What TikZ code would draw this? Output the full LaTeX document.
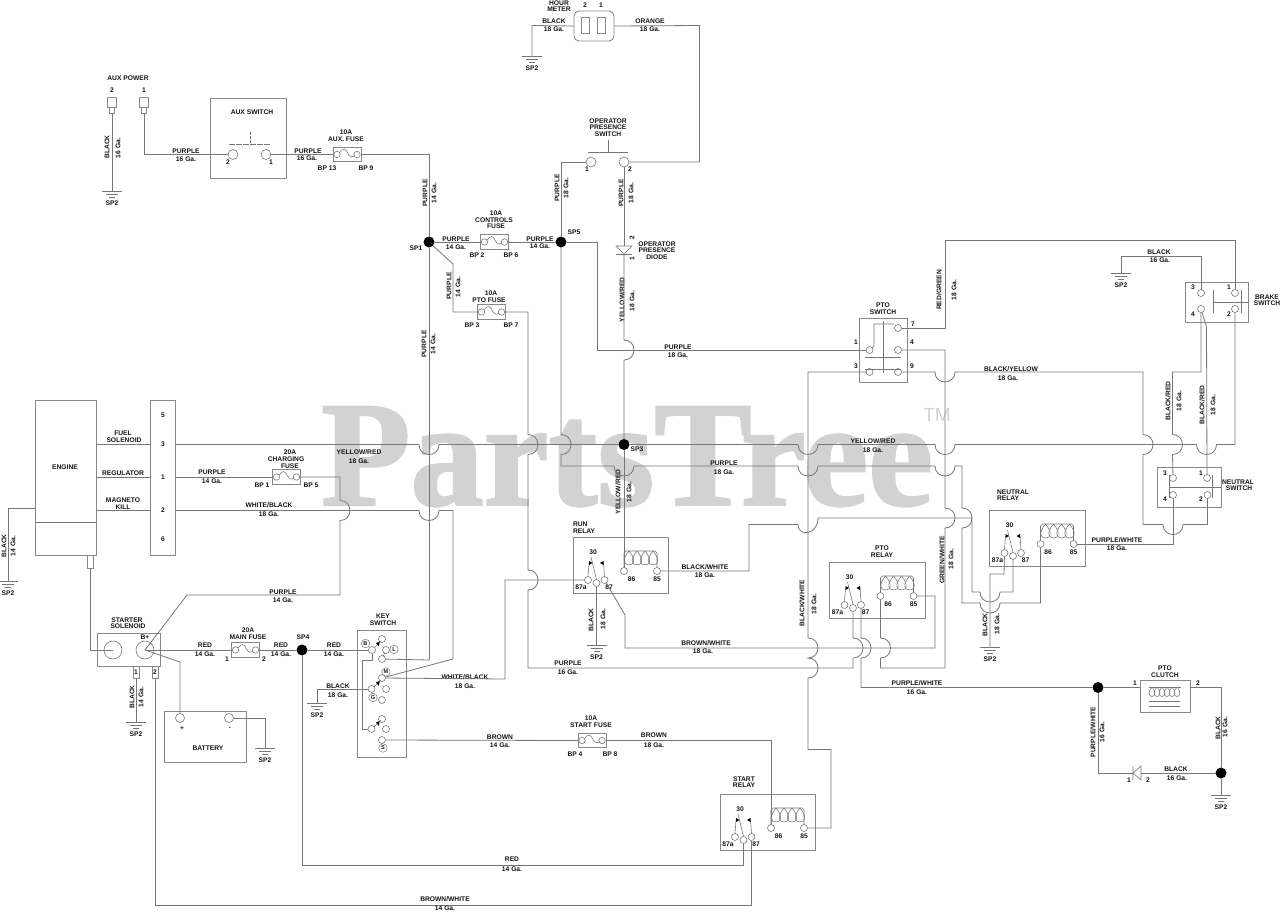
\documentclass[tikz,border=0pt]{standalone}
\usepackage{fontspec}
\setmainfont{Liberation Sans}
\newfontfamily\wmfont[BoldFeatures={FakeBold=1.6}]{Liberation Serif}
\definecolor{wr}{HTML}{777777}
\definecolor{bxc}{HTML}{888888}
\definecolor{tx}{HTML}{151515}
\definecolor{wmc}{HTML}{D2D2D2}
\tikzset{
 wire/.style={draw=wr,line width=.8pt,line join=miter},
 thin wire/.style={draw=wr,line width=.6pt},
 lbl/.style={inner sep=0pt,outer sep=0pt,text=tx,font=\fontsize{6.7}{7}\selectfont\bfseries},
 rlbl/.style={lbl,rotate=90},
 boxn/.style={draw=bxc,line width=.9pt,inner sep=0pt,outer sep=0pt,fill=none},
 term/.style={circle,draw=wr,line width=.6pt,inner sep=0pt,outer sep=0pt,minimum size=7pt},
 bigterm/.style={term,minimum size=10pt},
 dotn/.style={circle,fill=black,inner sep=0pt,outer sep=0pt,minimum size=11pt},
 ringlbl/.style={circle,draw=wr,line width=.5pt,inner sep=0pt,minimum size=8.5pt,text=tx,font=\fontsize{5.6}{6}\selectfont\bfseries},
}
\newcount\lblc
\newcommand{\T}[3]{\global\advance\lblc by 1 \node[lbl] (lbl\the\lblc) at (#1,#2) {#3};}
\newcommand{\RT}[3]{\global\advance\lblc by 1 \node[rlbl] (lbl\the\lblc) at (#1,#2) {#3};}
% hops: horizontal travelling right, bulge downwards; vertical travelling down, bulge right
\def\hd#1#2{-- (#1-10,#2) .. controls (#1-10,#2+13.3) and (#1+10,#2+13.3) .. (#1+10,#2)}
\def\vr#1#2{-- (#1,#2-10) .. controls (#1+13.3,#2-10) and (#1+13.3,#2+10) .. (#1,#2+10)}
\newcommand{\bx}[5]{\node[boxn,minimum width={(#4-#2)*1pt},minimum height={(#5-#3)*1pt}] (#1) at ({(#2+#4)/2},{(#3+#5)/2}) {};}
\newcommand{\fuse}[3]{%
 \node[boxn,minimum width=28pt,minimum height=14.5pt] (#1) at (#2,#3) {};
 \draw[thin wire] (#2-10,#3) circle[radius=3.2] (#2+10,#3) circle[radius=3.2];
 \draw[thin wire] (#2-7.5,#3-2) .. controls (#2-3.5,#3-7) and (#2-1.5,#3-6.5) .. (#2+1,#3-1) .. controls (#2+3,#3+2.5) and (#2+5,#3+3) .. (#2+7.5,#3+1);}
\newcommand{\gnd}[3]{% name, x, y
 \coordinate (#1) at (#2,#3);
 \draw[thin wire] (#2-10,#3)--(#2+10,#3) (#2-6,#3+3)--(#2+6,#3+3) (#2-3,#3+6)--(#2+3,#3+6);
 \T{#2}{#3+12.5}{SP2}}
\newcommand{\coilunit}[4]{% cx, top, bottom, half-width
 \draw[thin wire] (#1,#2) .. controls (#1-#4*1.5,#3-5) and (#1-#4,#3) .. (#1,#3) .. controls (#1+#4,#3) and (#1+#4*1.5,#3-5) .. (#1,#2);}
\newcommand{\relay}[3]{% name, x, y
 \node[boxn,minimum width=95.5pt,minimum height=56pt] (#1) at (#2+47.75,#3+28) {};
 \node[term] (#1a) at (#2+15,#3+43) {};
 \node[term] (#1c) at (#2+23.5,#3+46) {};
 \node[term] (#1n) at (#2+31.5,#3+43) {};
 \node[term] (#1p) at (#2+51,#3+34) {};
 \node[term] (#1q) at (#2+84,#3+34) {};
 \draw[thin wire] (#1a.north)--(#2+16,#3+26) (#1n.north)--(#2+30.5,#3+26) (#1c.north)--(#2+18,#3+20);
 \fill[black] (#2+16,#3+24) -- (#2+19.5,#3+26) -- (#2+16,#3+28) -- cycle;
 \fill[black] (#2+30.5,#3+24) -- (#2+27,#3+26) -- (#2+30.5,#3+28) -- cycle;
 \draw[thin wire] (#1p.north) -- (#2+51,#3+16) -- (#2+53,#3+14) -- (#2+82,#3+14) -- (#2+84,#3+16) -- (#1q.north);
 \coilunit{#2+56}{#3+14}{#3+28}{5}\coilunit{#2+64}{#3+14}{#3+28}{5}\coilunit{#2+72}{#3+14}{#3+28}{5}\coilunit{#2+80}{#3+14}{#3+28}{5}
 \T{#2+20}{#3+15}{30}\T{#2+8}{#3+50.5}{87a}\T{#2+36}{#3+50.5}{87}\T{#2+58.5}{#3+42}{86}\T{#2+84}{#3+42}{85}}
\begin{document}
\begin{tikzpicture}[x=1pt,y=-1pt]
\useasboundingbox (0,0) rectangle (1280,913);
% watermark
\node[inner sep=0pt,text=wmc,xscale=.975,font=\fontsize{150}{150}\selectfont\wmfont\bfseries,anchor=base west] (wm) at (321,505) {PartsTree};
\node[inner sep=0pt,text=wmc,font=\fontsize{19}{19}\selectfont] (wmtm) at (937,415) {TM};

% ---------- AUX POWER
\T{128}{78}{AUX POWER}\T{112}{90}{2}\T{144}{90}{1}
\node[boxn,minimum width=9pt,minimum height=10pt] (ap2) at (112,102) {};
\node[boxn,minimum width=5pt,minimum height=6pt] (ap2b) at (112,110) {};
\node[boxn,minimum width=9pt,minimum height=10pt] (ap1) at (144,102) {};
\node[boxn,minimum width=5pt,minimum height=6pt] (ap1b) at (144,110) {};
\gnd{g1}{112}{191}
\draw[wire] (ap2b.south) -- (g1);
\RT{107}{147}{BLACK}\RT{118}{148}{16 Ga.}
\bx{auxsw}{210.5}{98.5}{286}{178}
\T{252}{112}{AUX SWITCH}
\node[bigterm] (as2) at (233,154.5) {};
\node[bigterm] (as1) at (266,154.5) {};
\draw[thin wire,dash pattern=on 6pt off 1pt] (229,144)--(270,144);
\draw[thin wire,dash pattern=on 3pt off 1pt] (250,132)--(250,144);
\T{228}{162}{2}\T{271}{162}{1}
\draw[wire] (ap1b.south) |- (as2);
\T{186}{151}{PURPLE}\T{186}{159}{16 Ga.}
\draw[wire] (as1) -- (333,154.5);
\T{308}{151}{PURPLE}\T{307}{158.5}{16 Ga.}
\fuse{fa}{347}{154.5}
\T{346}{132}{10A}\T{346}{139}{AUX. FUSE}\T{327}{168}{BP 13}\T{366}{168}{BP 9}

% ---------- SP1 and fuses
\node[dotn] (sp1) at (429,242) {};
\T{416}{248}{SP1}
\draw[wire] (fa.east) -- (429,154.5) -- (sp1);
\draw[wire] (sp1) -- (429,660);
\RT{425}{193}{PURPLE}\RT{434}{193}{14 Ga.}\RT{424}{344}{PURPLE}\RT{433}{344}{14 Ga.}
\fuse{fc}{494.5}{242}
\T{496}{213}{10A}\T{494}{220}{CONTROLS}\T{496}{226.5}{FUSE}\T{477}{255}{BP 2}\T{511}{255}{BP 6}
\T{456}{239}{PURPLE}\T{456}{247}{14 Ga.}\T{540}{239}{PURPLE}\T{540}{246.5}{14 Ga.}
\node[dotn] (sp5) at (561,242) {};
\T{574}{232}{SP5}
\draw[wire] (sp1) -- (fc.west) (fc.east) -- (sp5);
\fuse{fp}{491.5}{312}
\T{491}{293}{10A}\T{489}{300}{PTO FUSE}\T{472}{325}{BP 3}\T{511}{325}{BP 7}
\draw[wire] (sp1) -- (453,264) -- (453,312) -- (fp.west);
\RT{449}{286}{PURPLE}\RT{458}{287}{14 Ga.}

% ---------- operator presence
\T{608}{121}{OPERATOR}\T{608}{127.5}{PRESENCE}\T{608}{134}{SWITCH}
\draw[thin wire] (588,152)--(628,152) (608,140)--(608,152);
\node[bigterm] (op1) at (591,162) {};
\node[bigterm] (op2) at (624,162) {};
\T{587}{169}{1}\T{630}{169}{2}
\draw[wire] (sp5) |- (op1);
\RT{557}{188}{PURPLE}\RT{566}{188}{18 Ga.}
\RT{621}{193}{PURPLE}\RT{631}{193}{18 Ga.}
% hour meter
\node[boxn,rounded corners=5pt,minimum width=40pt,minimum height=30pt] (hm) at (594,26) {};
\node[boxn,line width=.6pt,minimum width=8pt,minimum height=16pt] (hm2) at (585.5,25.5) {};
\node[boxn,line width=.6pt,minimum width=8pt,minimum height=16pt] (hm1) at (601.5,25.5) {};
\T{585}{5}{2}\T{601}{5}{1}\T{559}{3}{HOUR}\T{559}{9.5}{METER}
\T{554}{21}{BLACK}\T{554}{29}{18 Ga.}\T{650}{21}{ORANGE}\T{650}{29}{18 Ga.}
\gnd{g2}{532}{56}
\draw[wire] (hm.west) -- (532,25.5) -- (g2);
\draw[wire] (hm.east) -- (699.5,25.5) -- (699.5,162) -- (op2);
% diode
\coordinate (dio) at (624,246);
\coordinate (dio2) at (624,254);
\draw[thin wire] (616,246) -- (632,246) -- (624,254) -- cycle;
\draw[thin wire] (616,254)--(632,254);
\RT{632}{238}{2}\RT{632}{259}{1}
\T{657}{244}{OPERATOR}\T{657}{250.5}{PRESENCE}\T{657}{257}{DIODE}
\draw[wire] (op2) -- (dio);
\RT{622}{300}{YELLOW/RED}\RT{632}{301}{18 Ga.}
\node[dotn] (sp3) at (624,444.5) {};
\T{637}{449}{SP3}
\RT{618}{492}{YELLOW/RED}\RT{629}{492}{18 Ga.}

% ---------- engine
\bx{engine}{35.5}{400}{96}{555}
\draw[wire] (engine.west |- 0,522) -- (engine.east |- 0,522);
\T{65}{467}{ENGINE}
\bx{tb}{150}{400}{175}{555}
\T{163}{415}{5}\T{163}{539}{6}
\node[lbl] (n3) at (163,444.5) {3};
\node[lbl] (n1) at (163,477) {1};
\node[lbl] (n2) at (163,510.5) {2};
\T{123}{433}{FUEL}\T{124}{440}{SOLENOID}\T{123}{473}{REGULATOR}\T{123}{500}{MAGNETO}\T{123}{507}{KILL}
\draw[wire] (engine.east |- n3) -- (tb.west |- n3);
\draw[wire] (engine.east |- n1) -- (tb.west |- n1);
\draw[wire] (engine.east |- n2) -- (tb.west |- n2);
\gnd{g3}{8}{581}
\draw[wire] (engine.west |- 0,508) -- (8,508) -- (g3);
\RT{4}{546}{BLACK}\RT{13}{546}{14 Ga.}
\node[boxn,line width=.7pt,minimum width=6pt,minimum height=13pt] (engc) at (90.5,561.5) {};

% ---------- charging fuse
\fuse{fch}{286.5}{477}
\T{290}{452}{20A}\T{286}{459}{CHARGING}\T{290}{466}{FUSE}\T{262}{485}{BP 1}\T{311}{485}{BP 5}
\T{212}{472}{PURPLE}\T{212}{481}{14 Ga.}\T{269}{505}{WHITE/BLACK}\T{269}{514}{18 Ga.}
\T{359}{452}{YELLOW/RED}\T{359}{461}{18 Ga.}\T{283}{592}{PURPLE}\T{283}{600}{14 Ga.}
\draw[wire] (tb.east |- n1) -- (fch.west);

% ---------- starter solenoid
\bx{sol}{97.5}{633}{160}{666}
\node[circle,draw=wr,line width=.6pt,minimum size=18pt,inner sep=0pt] (solL) at (113,650) {};
\node[circle,draw=wr,line width=.6pt,minimum size=18pt,inner sep=0pt] (solR) at (145,650) {};
\T{127}{620}{STARTER}\T{128}{626.5}{SOLENOID}\T{145}{637}{B+}
\node[boxn,line width=.7pt,minimum width=6pt,minimum height=12pt,label={[lbl]center:1}] (sol1) at (136,672) {};
\node[boxn,line width=.7pt,minimum width=6pt,minimum height=12pt,label={[lbl]center:2}] (sol2) at (155,672) {};
\draw[wire] (engc.south) -- (90.5,650) -- (solL.center);
\draw[wire] (fch.east) -- (340,477) \vr{340}{510.5} -- (340,595) -- (187,595) -- (solR.center);
\gnd{g4}{136}{722}
\draw[wire] (sol1.south) -- (g4);
\RT{132}{697}{BLACK}\RT{141}{697}{14 Ga.}
% battery
\bx{bat}{164}{711.5}{246}{762}
\node[term,minimum size=9pt] (batp) at (180,718) {};
\node[term,minimum size=9pt] (batm) at (229,718) {};
\T{182}{729}{+}\T{230}{728}{-}\T{208}{748}{BATTERY}
\draw[wire] (solR.center) -- (180,662) -- (batp);
\gnd{g5}{265}{748}
\draw[wire] (batm) -- (265,718) -- (g5);
% main fuse
\fuse{fm}{245.5}{650}
\T{248}{630}{20A}\T{248}{637}{MAIN FUSE}\T{227}{659}{1}\T{264}{659}{2}
\T{205}{645}{RED}\T{205}{654}{14 Ga.}\T{281}{645}{RED}\T{281}{654}{14 Ga.}\T{334}{645}{RED}\T{334}{654}{14 Ga.}
\node[dotn] (sp4) at (302,650) {};
\T{303}{637}{SP4}
\draw[wire] (solR.center) -- (fm.west) (fm.east) -- (sp4);

% ---------- key switch
\T{383}{616}{KEY}\T{383}{623}{SWITCH}
\bx{key}{357}{630}{406.5}{757.5}
\node[term] (kb) at (372,650) {};
\node[term] (kbu) at (382,639) {};
\node[term] (kl) at (386,650) {};
\node[term] (kll) at (382,659) {};
\node[term] (km) at (382,678) {};
\node[term] (kmr) at (386,689) {};
\node[term] (kg) at (371.5,689) {};
\node[term] (kgl) at (382,700) {};
\node[term] (ks3) at (371.5,729) {};
\node[term] (ks3u) at (382,719) {};
\node[term] (ks3r) at (386,729) {};
\node[term] (ks) at (382,740) {};
\node[ringlbl] (rb) at (365.5,643.5) {B};
\node[ringlbl] (rl) at (394,649.5) {L};
\node[ringlbl] (rm) at (386,672) {M};
\node[ringlbl] (rg) at (373,697.5) {G};
\node[ringlbl] (rs) at (383,748) {S};
\draw[wire] (sp4) -- (kb);
\draw[thin wire] (kl) -- (kll);
\draw[thin wire] (kb) -- (381,641);
\draw[thin wire] (kg) -- (381,680);
\draw[thin wire] (ks3) -- (381,720);
\fill[black] (379.5,641.5) -- (376,643) -- (379,646.5) -- cycle;
\fill[black] (379.5,681) -- (376,682.5) -- (379,686) -- cycle;
\fill[black] (379.5,721) -- (376,722.5) -- (379,726) -- cycle;
\draw[thin wire] (kb) -- (372,660.5) -- (362,660.5) -- (362,729) -- (ks3);
\gnd{g6}{317}{703}
\draw[wire] (kg) -- (317,689) -- (g6);
\T{338}{686}{BLACK}\T{338}{695}{18 Ga.}
\draw[wire] (kll) -- (429,660);
\draw[wire] (tb.east |- n2) \hd{429}{510.5} -- (453,510.5) -- (453,659) -- (km);
\T{465}{677}{WHITE/BLACK}\T{465}{686}{18 Ga.}
\T{500}{737}{BROWN}\T{500}{745.5}{14 Ga.}\T{654}{735}{BROWN}\T{654}{745}{18 Ga.}
\fuse{fs}{592}{740.5}
\T{591}{718}{10A}\T{591}{725}{START FUSE}\T{575}{754}{BP 4}\T{610}{754}{BP 8}
\draw[wire] (ks) -- (fs.west);

% ---------- relays
\node[lbl,anchor=west] (lblrr1) at (573,524) {RUN};
\node[lbl,anchor=west] (lblrr2) at (573,531) {RELAY};
\relay{rr}{573}{537}
\T{882}{548}{PTO}\T{882}{555}{RELAY}
\relay{pr}{829.5}{562}
\node[lbl,anchor=west] (lblnr1) at (997,492) {NEUTRAL};
\node[lbl,anchor=west] (lblnr2) at (997,498.5) {RELAY};
\relay{nr}{989.5}{510}
\T{744}{779}{START}\T{744}{785.5}{RELAY}
\relay{sr}{720}{794}

% ---------- PTO switch
\T{883}{305}{PTO}\T{883}{312}{SWITCH}
\bx{ps}{859.5}{318.5}{907.5}{382}
\node[term] (ps1) at (869.5,350) {};
\node[term] (ps7) at (898,328) {};
\node[term] (ps4) at (898,350) {};
\node[term] (ps3) at (869.5,372) {};
\node[term] (ps9) at (898,372) {};
\T{913}{324.5}{7}\T{912}{342}{4}\T{856}{342}{1}\T{856}{366}{3}\T{912}{366}{9}
\draw[thin wire] (ps1) -- (874,346) -- (874,324) -- (894,324);
\draw[thin wire] (883,321) -- (883,373);
\draw[thin wire] (865,357) -- (901,357) (865,369) -- (901,369);
\RT{939}{290}{RED/GREEN}\RT{954}{290}{18 Ga.}
\T{1011}{369}{BLACK/YELLOW}\T{1008}{378}{18 Ga.}

% ---------- brake switch
\bx{bs}{1185}{282}{1248}{322}
\node[term] (bs3) at (1201,293) {};
\node[term] (bs1) at (1235,293) {};
\node[term] (bs4) at (1201,309) {};
\node[term] (bs2) at (1235,309) {};
\T{1193}{287}{3}\T{1229}{287}{1}\T{1193}{314}{4}\T{1229}{314}{2}
\T{1267}{297}{BRAKE}\T{1267}{303}{SWITCH}
\draw[thin wire] (1213,290)--(1213,313) (1241,290)--(1241,313) (1213,302)--(1248,302);
\gnd{g7}{1121}{273}
\draw[wire] (bs3) -- (1201,256) -- (1121,256) -- (g7);
\T{1159}{252}{BLACK}\T{1160}{260.5}{16 Ga.}
\RT{1168}{401}{BLACK/RED}\RT{1179}{401}{18 Ga.}\RT{1202}{405}{BLACK/RED}\RT{1213}{405}{18 Ga.}

% ---------- neutral switch
\bx{ns}{1157}{467}{1221}{507.5}
\node[term] (ns3) at (1173,478) {};
\node[term] (ns1) at (1207,478) {};
\node[term] (ns4) at (1173,495) {};
\node[term] (ns2) at (1207.5,495) {};
\T{1165}{473}{3}\T{1201}{473}{1}\T{1165}{499}{4}\T{1201}{499}{2}
\T{1238}{482}{NEUTRAL}\T{1239}{488.5}{SWITCH}
\draw[thin wire] (1169,475)--(1169,498) (1212,475)--(1212,498) (1169,487)--(1221,487);

% ---------- PTO clutch
\T{1165}{668}{PTO}\T{1165}{675}{CLUTCH}
\bx{cl}{1140}{680}{1190}{712}
\draw[thin wire] (1149,687)--(1181,687);
\foreach \cx in {1152,1157,1162,1167,1172,1177}{\coilunit{\cx}{687}{696.5}{3}}
\draw[thin wire] (1149,701)--(1180,701) (1149,706)--(1180,706);
\T{1135}{683}{1}\T{1198}{683}{2}
\node[dotn] (dc) at (1098,687.5) {};
\node[dotn] (dd) at (1221,773) {};
\gnd{g8}{1221}{795}
\draw[wire] (dc) -- (cl.west |- dc) (cl.east |- dc) -- (1221,687.5) -- (dd);
\draw[wire] (dd) -- (g8);
\coordinate (d2a) at (1133,773);
\coordinate (d2b) at (1141,773);
\draw[thin wire] (1133,766)--(1133,780) (1133,773)--(1141,766)--(1141,780)--cycle;
\draw[wire] (dc) -- (1098,773) -- (d2a);
\draw[wire] (d2b) -- (dd);
\T{1129}{780}{1}\T{1148}{780}{2}
\T{1176}{769}{BLACK}\T{1177}{778}{16 Ga.}
\RT{1218}{728}{BLACK}\RT{1225}{727}{16 Ga.}
\RT{1093}{732}{PURPLE/WHITE}\RT{1102}{732}{16 Ga.}

% ---------- long wires
\draw[wire] (tb.east |- n3) \hd{429}{444.5} -- (sp3);
\draw[wire] (sp3) \hd{808}{444.5} \hd{945}{444.5} \hd{1206.5}{444.5} -- (1235,444.5) -- (bs2);
\draw[wire] (bs1) -- (1235,240) -- (945,240) -- (945,328) -- (ps7);
\draw[wire] (fp.east) -- (528,312) \vr{528}{444.5} \vr{528}{580} -- (528,668) -- (853,668);
\draw[wire] (prc) \vr{853}{648} -- (853,668);
\draw[wire] (sp5) \vr{561}{444.5} -- (561,466) \hd{624}{466} \hd{808}{466} \hd{945}{466} -- (962,466) \vr{962}{518} -- (962,603) \hd{990}{603} -- (1040.5,603) -- (nrp);
\draw[wire] (sp5) -- (597,242) -- (597,350) -- (ps1);
\draw[wire] (dio2) \vr{624}{350} -- (sp3);
\draw[wire] (sp3) -- (rrp);
\draw[wire] (rrq) -- (749,571) -- (749,524.5) -- (798,524.5) .. controls (798,537.5) and (818,535) .. (818,518) -- (972,518) -- (972,592) \hd{990}{592} -- (1013,592) -- (nrc);
\draw[wire] (rrn) -- (625,615) -- (625,648) -- (935,648) -- (935,596) -- (prq);
\gnd{g9}{596.5}{645}
\draw[wire] (rrc) -- (g9);
\draw[wire] (rra) -- (505,580) -- (505,679) -- (km);
\draw[wire] (ps3) -- (808,372) \vr{808}{648} \vr{808}{668} -- (808,749.5) -- (831,749.5) -- (831,828) -- (srq);
\draw[wire] (prp) \vr{880.5}{648} -- (880.5,668) -- (945,668);
\draw[wire] (ps4) -- (945,350) \vr{945}{518} -- (945,668);
\draw[wire] (prn) \vr{861}{648} -- (861,687.5) -- (dc);
\draw[wire] (ps9) \hd{945}{372} -- (1143,372) \vr{1143}{444.5} -- (1143,524.5) \hd{1173}{524.5} -- (1207.5,524.5) -- (ns2);
\draw[wire] (bs4) -- (1201,372) -- (1172.5,372) \vr{1172.5}{444.5} -- (ns3);
\draw[wire] (bs4) -- (1206.5,327) -- (ns1);
\draw[wire] (ns4) -- (1173,544) -- (nrq);
\gnd{g10}{990}{647}
\draw[wire] (nra) -- (1004,574) -- (990,574) -- (g10);
\draw[wire] (fs.east) -- (771,740.5) -- (srp);
\draw[wire] (sp4) -- (302,865) -- (743.5,865) -- (src);
\draw[wire] (sol2.south) -- (155,905) -- (751.5,905) -- (srn);

% ---------- remaining labels
\T{678}{347}{PURPLE}\T{678}{355.5}{18 Ga.}
\T{873}{441}{YELLOW/RED}\T{873}{450}{18 Ga.}
\T{724}{463}{PURPLE}\T{724}{472}{18 Ga.}
\T{705}{567}{BLACK/WHITE}\T{705}{575}{18 Ga.}
\T{706}{643}{BROWN/WHITE}\T{703}{651}{18 Ga.}
\T{568}{663}{PURPLE}\T{568}{672}{16 Ga.}
\RT{591}{620}{BLACK}\RT{603}{619}{18 Ga.}
\RT{802}{603}{BLACK/WHITE}\RT{814}{604}{18 Ga.}
\RT{942}{560}{GREEN/WHITE}\RT{951}{559}{18 Ga.}
\RT{985}{625}{BLACK}\RT{997}{624}{18 Ga.}
\T{1117}{540}{PURPLE/WHITE}\T{1117}{548}{18 Ga.}
\T{917}{683}{PURPLE/WHITE}\T{917}{692}{16 Ga.}
\T{445}{899}{BROWN/WHITE}\T{445}{908}{14 Ga.}
\T{512}{859}{RED}\T{512}{869}{14 Ga.}
\end{tikzpicture}
\end{document}
